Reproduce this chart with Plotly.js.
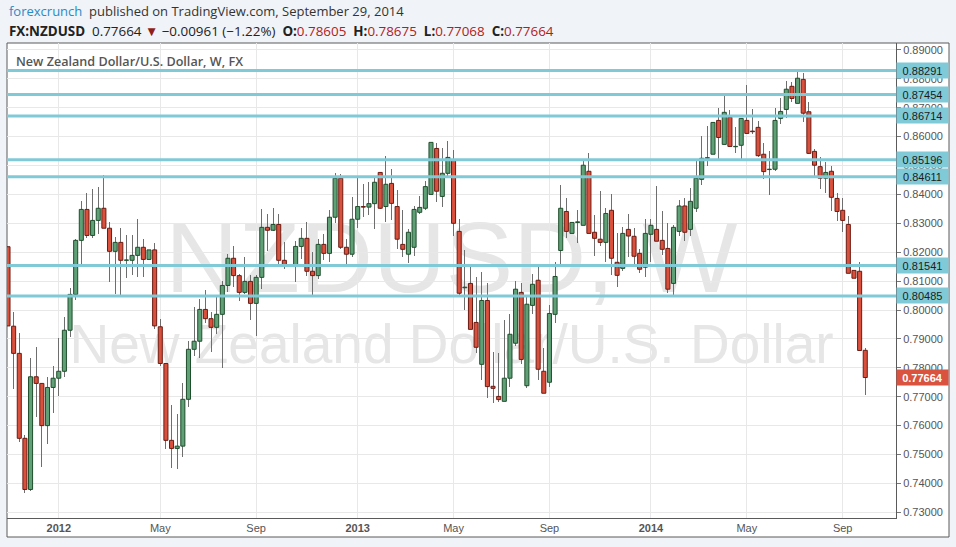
<!DOCTYPE html>
<html>
<head>
<meta charset="utf-8">
<script src="https://cdn.plot.ly/plotly-3.0.1.min.js"></script>
<style>
html,body{margin:0;padding:0;background:#f0f3f7;}
#chart{width:956px;height:547px;}
</style>
</head>
<body>
<div id="chart"></div>
<script>
// Weekly NZD/USD candles, first bar week of 2011-10-30
const firstWeek = '2011-10-30';

const openP = [
0.8219,0.7944,0.7850,0.7556,0.7379,0.7769,0.7746,0.7600,0.7732,0.7764,
0.7788,0.7930,0.8054,0.8241,0.8348,0.8258,0.8310,0.8352,0.8283,0.8203,
0.8234,0.8172,0.8172,0.8189,0.8217,0.8175,0.8208,0.7942,0.7815,0.7549,
0.7521,0.7529,0.7691,0.7864,0.7892,0.8002,0.7970,0.7940,0.7985,0.8085,
0.8179,0.8119,0.8061,0.8099,0.8023,0.8113,0.8286,0.8276,0.8296,0.8172,
0.8155,0.8151,0.8220,0.8248,0.8134,0.8119,0.8227,0.8196,0.8321,0.8456,
0.8217,0.8193,0.8314,0.8358,0.8356,0.8368,0.8476,0.8358,0.8438,0.8358,
0.8227,0.8193,0.8217,0.8338,0.8352,0.8400,0.8559,0.8393,0.8473,0.8518,
0.8272,0.8077,0.8092,0.7957,0.7812,0.8033,0.7736,0.7701,0.7684,0.7764,
0.7885,0.8061,0.7738,0.8016,0.8103,0.7788,0.7750,0.7985,0.8206,0.8341,
0.8265,0.8303,0.8293,0.8480,0.8269,0.8245,0.8234,0.8345,0.8165,0.8144,
0.8279,0.8255,0.8196,0.8148,0.8262,0.8279,0.8241,0.8213,0.8092,0.8272,
0.8360,0.8279,0.8352,0.8452,0.8525,0.8539,0.8656,0.8573,0.8667,0.8565,
0.8570,0.8656,0.8619,0.8632,0.8539,0.8486,0.8487,0.8663,0.8694,0.8774,
0.8715,0.8798,0.8686,0.8549,0.8496,0.8456,0.8480,0.8386,0.8345,0.8296,
0.8137,0.8134,0.78605];

const highP = [
0.8225,0.7992,0.7919,0.7566,0.7833,0.7872,0.7748,0.7767,0.7806,0.7904,
0.7976,0.8076,0.8247,0.8377,0.8405,0.8419,0.8426,0.8467,0.8305,0.8253,
0.8284,0.8260,0.8260,0.8315,0.8246,0.8228,0.8232,0.7968,0.7817,0.7671,
0.7639,0.7746,0.7894,0.8012,0.8039,0.8069,0.7993,0.8048,0.8100,0.8194,
0.8220,0.8126,0.8183,0.8121,0.8120,0.8348,0.8332,0.8352,0.8332,0.8235,
0.8225,0.8240,0.8283,0.8304,0.8200,0.8245,0.8263,0.8346,0.8473,0.8471,
0.8246,0.8392,0.8456,0.8436,0.8444,0.8458,0.8477,0.8533,0.8488,0.8415,
0.8346,0.8280,0.8360,0.8393,0.8446,0.8667,0.8577,0.8559,0.8585,0.8554,
0.8314,0.8208,0.8158,0.8115,0.8131,0.8092,0.7855,0.7852,0.7965,0.7986,
0.8100,0.8092,0.8052,0.8123,0.8159,0.7867,0.8017,0.8166,0.8433,0.8388,
0.8346,0.8346,0.8521,0.8542,0.8328,0.8412,0.8352,0.8401,0.8265,0.8287,
0.8332,0.8283,0.8210,0.8314,0.8314,0.8429,0.8343,0.8301,0.8294,0.8381,
0.8388,0.8422,0.8519,0.8602,0.8637,0.8694,0.8698,0.8740,0.8692,0.8632,
0.8663,0.8779,0.8694,0.8654,0.8577,0.8550,0.8700,0.8735,0.8792,0.8788,
0.8827,0.8819,0.8720,0.8556,0.8528,0.8512,0.8498,0.8405,0.8388,0.8325,
0.8224,0.8165,0.78675];

const lowP = [
0.7802,0.7728,0.7544,0.7366,0.7375,0.7631,0.7456,0.7537,0.7645,0.7704,
0.7769,0.7908,0.8036,0.8153,0.8248,0.8248,0.8263,0.8283,0.8098,0.8057,
0.8052,0.8112,0.8121,0.8115,0.8115,0.8084,0.7933,0.7806,0.7518,0.7452,
0.7449,0.7492,0.7666,0.7842,0.7835,0.7954,0.7856,0.7917,0.7800,0.8063,
0.8081,0.8032,0.8055,0.7967,0.7911,0.8074,0.8205,0.8274,0.8150,0.8143,
0.8104,0.8098,0.8178,0.8119,0.8050,0.8107,0.8173,0.8167,0.8300,0.8211,
0.8153,0.8185,0.8285,0.8321,0.8329,0.8279,0.8350,0.8306,0.8311,0.8211,
0.8185,0.8161,0.8188,0.8332,0.8346,0.8398,0.8375,0.8358,0.8458,0.8257,
0.8052,0.8000,0.7933,0.7852,0.7758,0.7694,0.7677,0.7683,0.7684,0.7735,
0.7875,0.7813,0.7731,0.7986,0.7758,0.7712,0.7732,0.7956,0.8153,0.8248,
0.8188,0.8231,0.8293,0.8265,0.8188,0.8223,0.8165,0.8121,0.8081,0.8136,
0.8185,0.8148,0.8127,0.8113,0.8166,0.8238,0.8189,0.8060,0.8046,0.8255,
0.8240,0.8257,0.8340,0.8433,0.8499,0.8513,0.8516,0.8573,0.8563,0.8544,
0.8518,0.8608,0.8608,0.8531,0.8452,0.8398,0.8481,0.8642,0.8663,0.8719,
0.8715,0.8649,0.8539,0.8461,0.8420,0.8406,0.8344,0.8309,0.8269,0.8127,
0.8074,0.7860,0.77068];

const closeP = [
0.7945,0.7850,0.7556,0.7379,0.7769,0.7746,0.7600,0.7732,0.7764,0.7788,
0.7930,0.8054,0.8241,0.8348,0.8258,0.8310,0.8352,0.8283,0.8203,0.8234,
0.8172,0.8173,0.8189,0.8217,0.8175,0.8208,0.7945,0.7815,0.7549,0.7521,
0.7529,0.7691,0.7864,0.7892,0.8002,0.7970,0.7940,0.7985,0.8085,0.8179,
0.8119,0.8061,0.8099,0.8023,0.8113,0.8286,0.8276,0.8296,0.8172,0.8155,
0.8151,0.8220,0.8248,0.8134,0.8119,0.8227,0.8196,0.8321,0.8456,0.8217,
0.8193,0.8314,0.8358,0.8356,0.8368,0.8442,0.8352,0.8435,0.8369,0.8245,
0.8210,0.8269,0.8348,0.8355,0.8427,0.8580,0.8411,0.8473,0.8528,0.8300,
0.8058,0.8079,0.7933,0.7871,0.8033,0.7735,0.7729,0.7690,0.7764,0.7916,
0.8072,0.7829,0.8020,0.8089,0.7795,0.7712,0.7988,0.8116,0.8352,0.8272,
0.8303,0.8305,0.8501,0.8265,0.8248,0.8234,0.8334,0.8179,0.8120,0.8265,
0.8256,0.8186,0.8141,0.8265,0.8293,0.8238,0.8210,0.8072,0.8286,0.8360,
0.8269,0.8376,0.8456,0.8525,0.8527,0.8649,0.8597,0.8684,0.8566,0.8566,
0.8663,0.8611,0.8617,0.8534,0.8479,0.8487,0.8656,0.8687,0.8764,0.8732,
0.8802,0.8681,0.8542,0.8501,0.8456,0.8476,0.8390,0.8341,0.8310,0.8127,
0.8110,0.7860,0.77664];

const levels = [0.88291, 0.87454, 0.86714, 0.85196, 0.84611, 0.81541, 0.80485];
const lastPrice = 0.77664;

const tickDates  = ['2012-01-01','2012-05-06','2012-09-02','2013-01-06','2013-05-05','2013-09-01','2014-01-05','2014-05-04','2014-08-31'];
const tickLabels = ['<b>2012</b>','May','Sep','<b>2013</b>','May','Sep','<b>2014</b>','May','Sep'];

const WEEK = 7*24*3600*1000;
const t0 = Date.parse(firstWeek + 'T00:00:00Z');
const fmt = ms => new Date(ms).toISOString().replace('T',' ').slice(0,19);
const dates = openP.map((_, i) => fmt(t0 + i*WEEK));

const UP_FILL = '#5fa077', UP_LINE = '#1f4e2c';
const DN_FILL = '#d9503d', DN_LINE = '#6b1b12';

const isUp = openP.map((o, i) => closeP[i] >= o);
const bodyBase = openP.map((o, i) => Math.min(o, closeP[i]));
const bodyLen = openP.map((o, i) => Math.max(Math.abs(closeP[i] - o), 0.00012));
const wickLen = highP.map((h, i) => h - lowP[i]);

const wicks = {
  type: 'bar', x: dates, base: lowP, y: wickLen,
  width: WEEK * 0.17,
  marker: {color: '#6e6e6e', line: {width: 0}},
  hoverinfo: 'skip'
};
const bodies = {
  type: 'bar', x: dates, base: bodyBase, y: bodyLen,
  width: WEEK * 0.72,
  marker: {
    color: isUp.map(u => u ? UP_FILL : DN_FILL),
    line: {color: isUp.map(u => u ? UP_LINE : DN_LINE), width: 1}
  },
  customdata: openP.map((o, i) => [o, highP[i], lowP[i], closeP[i]]),
  hovertemplate: 'O %{customdata[0]}<br>H %{customdata[1]}<br>L %{customdata[2]}<br>C %{customdata[3]}<extra></extra>'
};

const PL = 7, PR = 896, PT = 43, PB = 518;
const pw = PR - PL, ph = PB - PT;
const px = v => (v - PL) / pw;
const py = v => (PB - v) / ph;

const shapes = [
  {type:'rect', xref:'paper', yref:'paper', x0:0, x1:px(949), y0:py(537), y1:1,
   fillcolor:'#ffffff', line:{color:'#5a5a5a', width:1}, layer:'below'},
  {type:'rect', xref:'paper', yref:'paper', x0:0, x1:1, y0:py(300), y1:py(194),
   fillcolor:'rgba(0,0,0,0)', line:{width:0}, layer:'below',
   label:{text:'NZDUSD, W', textposition:'middle center',
          font:{family:'Liberation Sans, Arial, sans-serif', size:101, color:'#e6e6e6'}}},
  {type:'rect', xref:'paper', yref:'paper', x0:0, x1:1, y0:py(368), y1:py(310),
   fillcolor:'rgba(0,0,0,0)', line:{width:0}, layer:'below',
   label:{text:'New Zealand Dollar/U.S. Dollar', textposition:'middle center',
          font:{family:'Liberation Sans, Arial, sans-serif', size:55, color:'#e6e6e6'}}}
];
levels.forEach(v => shapes.push({
  type:'line', xref:'paper', yref:'y', x0:0, x1:1, y0:v, y1:v,
  line:{color:'#80cad8', width:3}, layer:'above'
}));

const annotations = [
  {xref:'paper', yref:'paper', x:0, y:py(11), xanchor:'left', yanchor:'middle', showarrow:false,
   text:'<span style="color:#2a8ac6">forexcrunch</span>  published on TradingView.com, September 29, 2014',
   font:{family:'Open Sans, Noto Sans, sans-serif', size:13, color:'#333'}},
  {xref:'paper', yref:'paper', x:0, y:py(31), xanchor:'left', yanchor:'middle', showarrow:false,
   text:'<b>FX:NZDUSD</b>  0.77664 <span style="color:#8f1f1a">▼</span> −0.00961 (−1.22%)  <b>O:</b><span style="color:#b0201a">0.78605</span>  <b>H:</b><span style="color:#b0201a">0.78675</span>  <b>L:</b><span style="color:#b0201a">0.77068</span>  <b>C:</b><span style="color:#b0201a">0.77664</span>',
   font:{family:'Open Sans, Noto Sans, sans-serif', size:13.4, color:'#222'}},
  {xref:'paper', yref:'paper', x:px(14), y:py(61), xanchor:'left', yanchor:'middle', showarrow:false,
   text:'New Zealand Dollar/U.S. Dollar, W, FX',
   font:{family:'Open Sans, Noto Sans, sans-serif', size:12.6, color:'#555', weight:600}}
];
levels.forEach(v => annotations.push({
  xref:'paper', yref:'y', x:1, y:v, xanchor:'left', yanchor:'middle', showarrow:false,
  text:v.toFixed(5), bgcolor:'#80cad8', borderpad:2, width:47, height:11,
  font:{family:'Liberation Sans, Arial, sans-serif', size:11, color:'#1c1c1c'}
}));
annotations.push({
  xref:'paper', yref:'y', x:1, y:lastPrice, xanchor:'left', yanchor:'middle', showarrow:false,
  text:'<b>' + lastPrice.toFixed(5) + '</b>', bgcolor:'#d9533e', borderpad:2, width:47, height:11,
  font:{family:'Liberation Sans, Arial, sans-serif', size:11, color:'#ffffff'}
});

const layout = {
  width: 956, height: 547,
  margin: {l: PL, r: 956 - PR, t: PT, b: 547 - PB, pad: 0},
  paper_bgcolor: '#f0f3f7',
  plot_bgcolor: '#ffffff',
  showlegend: false,
  barmode: 'overlay',
  bargap: 0,
  xaxis: {
    type: 'date',
    range: [fmt(t0 - WEEK/5.64), fmt(t0 + WEEK*157.45)],
    tickmode: 'array', tickvals: tickDates, ticktext: tickLabels,
    tickfont: {family: 'Liberation Sans Narrow, Arial Narrow, Liberation Sans, sans-serif', size: 11, color: '#555'},
    showgrid: true, gridcolor: '#e8e8e8', gridwidth: 1,
    showline: true, linecolor: '#5a5a5a', linewidth: 1,
    ticks: '', zeroline: false, fixedrange: true
  },
  yaxis: {
    side: 'right',
    range: [0.72803, 0.89239],
    tickmode: 'linear', tick0: 0.73, dtick: 0.01, tickformat: '.5f',
    ticks: 'outside', ticklen: 4, tickcolor: '#777', tickwidth: 1,
    tickfont: {family: 'Liberation Sans, Arial, sans-serif', size: 11, color: '#555'},
    showgrid: true, gridcolor: '#e8e8e8', gridwidth: 1,
    showline: true, linecolor: '#5a5a5a', linewidth: 1,
    zeroline: false, fixedrange: true
  },
  shapes: shapes,
  annotations: annotations
};

Plotly.newPlot('chart', [wicks, bodies], layout, {displayModeBar: false, staticPlot: true});
</script>
</body>
</html>
